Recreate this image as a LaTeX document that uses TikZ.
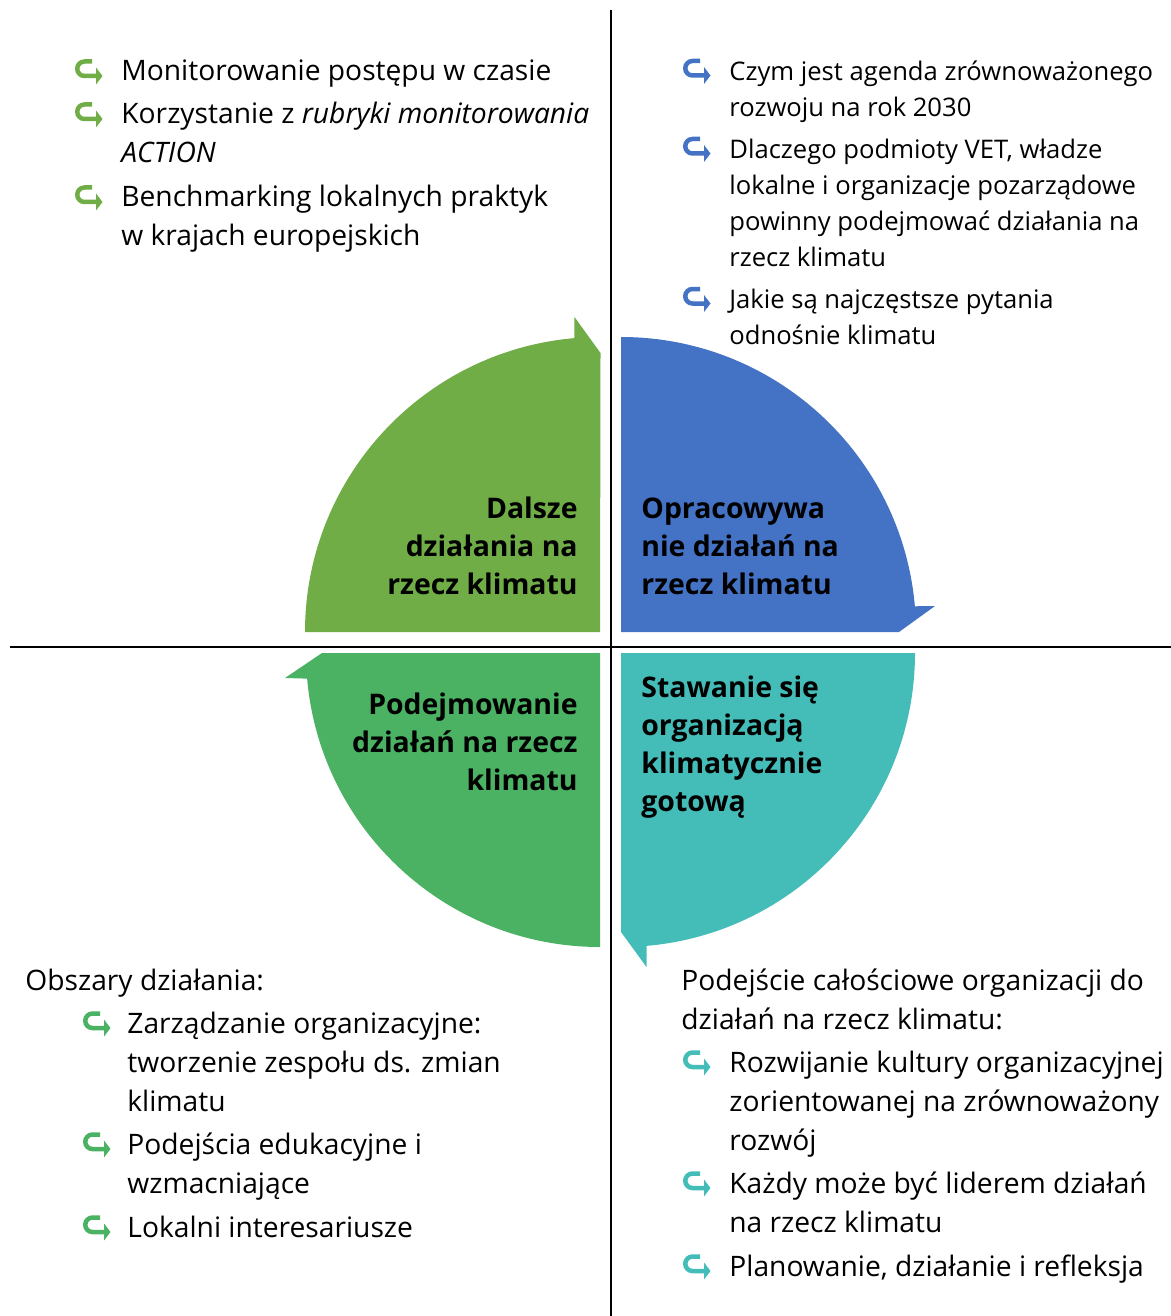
\documentclass[tikz,border=0pt]{standalone}
\usepackage{fontspec}
\setmainfont{Open Sans}
\definecolor{climgreen}{HTML}{70AD47}
\definecolor{climblue}{HTML}{4472C4}
\definecolor{climleaf}{HTML}{4BB264}
\definecolor{climteal}{HTML}{44BDB8}
\tikzset{
  hookarrow/.pic={
    \draw[line width=2.25pt] (17,14.5) -- (9.5,14.5) arc[start angle=90,end angle=270,radius=7.25] -- (21,0);
    \fill (21,8.5) -- (27.5,0) -- (21,-8.5) -- cycle;
  },
  itemtext/.style={anchor=base west, inner sep=0pt, align=left, font=\fontsize{14.1}{19.5}\selectfont},
  smalltext/.style={itemtext, font=\fontsize{12.8}{18}\selectfont},
  quadlabel/.style={inner sep=0pt, font=\fontsize{14.2}{19}\selectfont\bfseries},
}
\begin{document}
\begin{tikzpicture}[x=0.5pt,y=0.5pt]
\useasboundingbox (0,0) rectangle (1171,-1316);

% quadrants of the cycle
\fill[climgreen] (600,-632) -- (305,-632) arc[start angle=180,end angle=95,radius=295] -- (574.5,-317) -- (600.5,-353) -- cycle;
\fill[climblue] (621,-632) -- (621,-337) arc[start angle=90,end angle=5,radius=295] -- (935,-606) -- (899,-632) -- cycle;
\fill[climteal] (621,-653) -- (915,-653) arc[start angle=0,end angle=-85,radius=294] -- (646.5,-967) -- (621,-932) -- cycle;
\fill[climleaf] (600,-653) -- (600,-947) arc[start angle=270,end angle=185,radius=294] -- (285,-678) -- (322,-653) -- cycle;

% axes
\coordinate (top) at (611,-10);
\coordinate (bottom) at (611,-1316);
\coordinate (left) at (10,-647);
\coordinate (right) at (1171,-647);
\draw[line width=1pt] (top) -- (bottom);
\draw[line width=1pt] (left) -- (right);

% quadrant labels (base = last line)
\node[quadlabel, align=right, anchor=base east] (further) at (578,-594) {Dalsze\\działania na\\rzecz klimatu};
\node[quadlabel, align=left, anchor=base west] (develop) at (641,-594) {Opracowywa\\nie działań na\\rzecz klimatu};
\node[quadlabel, align=right, anchor=base east] (taking) at (578,-790) {Podejmowanie\\działań na rzecz\\klimatu};
\node[quadlabel, align=left, anchor=base west] (becoming) at (641,-811) {Stawanie się\\organizacją\\klimatycznie\\gotową};

% top left list
\pic[color=climgreen] at (75,-76) {hookarrow};
\node[itemtext] (tl1) at (121,-81) {Monitorowanie postępu w czasie};
\pic[color=climgreen] at (75,-119) {hookarrow};
\node[itemtext] (tl2) at (121,-163) {Korzystanie z \textit{rubryki monitorowania}\\\textit{ACTION}};
\pic[color=climgreen] at (75,-202) {hookarrow};
\node[itemtext] (tl3) at (121,-246) {Benchmarking lokalnych praktyk\\w krajach europejskich};

% top right list
\pic[color=climblue] at (683,-75.5) {hookarrow};
\node[smalltext] (tr1) at (729,-116.5) {Czym jest agenda zrównoważonego\\rozwoju na rok 2030};
\pic[color=climblue] at (683,-153.5) {hookarrow};
\node[smalltext] (tr2) at (729,-266.5) {Dlaczego podmioty VET, władze\\lokalne i organizacje pozarządowe\\powinny podejmować działania na\\rzecz klimatu};
\pic[color=climblue] at (683,-303.5) {hookarrow};
\node[smalltext] (tr3) at (729,-344.5) {Jakie są najczęstsze pytania\\odnośnie klimatu};

% bottom left list
\node[itemtext] (blhead) at (25,-990) {Obszary działania:};
\pic[color=climleaf] at (83,-1028) {hookarrow};
\node[itemtext] (bl1) at (127,-1111) {Zarządzanie organizacyjne:\\tworzenie zespołu ds. zmian\\klimatu};
\pic[color=climleaf] at (83,-1149) {hookarrow};
\node[itemtext] (bl2) at (127,-1193) {Podejścia edukacyjne i\\wzmacniające};
\pic[color=climleaf] at (83,-1232) {hookarrow};
\node[itemtext] (bl3) at (127,-1237) {Lokalni interesariusze};

% bottom right list
\node[itemtext] (brhead) at (681,-1029) {Podejście całościowe organizacji do\\działań na rzecz klimatu:};
\pic[color=climteal] at (683,-1067) {hookarrow};
\node[itemtext] (br1) at (729,-1150) {Rozwijanie kultury organizacyjnej\\zorientowanej na zrównoważony\\rozwój};
\pic[color=climteal] at (683,-1188) {hookarrow};
\node[itemtext] (br2) at (729,-1232) {Każdy może być liderem działań\\na rzecz klimatu};
\pic[color=climteal] at (683,-1271) {hookarrow};
\node[itemtext] (br3) at (729,-1276) {Planowanie, działanie i refleksja};
\end{tikzpicture}
\end{document}
